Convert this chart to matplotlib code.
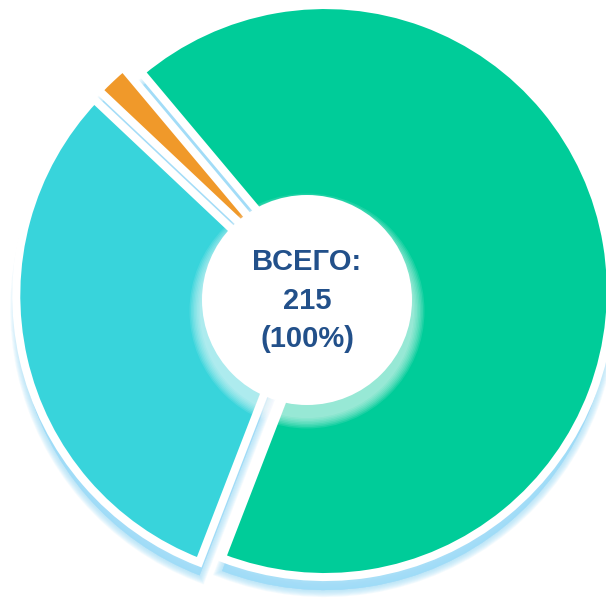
import numpy as np
import matplotlib.pyplot as plt
from matplotlib.patches import Circle

# data
labels = ['Категория 1', 'Категория 2', 'Категория 3']
values = [144, 67, 4]
colors = ['#00CC99', '#38D4DB', '#F0992A']
total = sum(values)
center_lines = ['ВСЕГО:', str(total), '(100%)']

W, H = 606, 598
CX, CY = 313, 305          # ring centre (pixels, y up)
R = 286
EXPLODE = [12, 11, 9]
START = 130
SHADOW = '#9DDCF7'
TEXT_COLOR = '#22508A'

fig = plt.figure(figsize=(W / 100, H / 100), dpi=100)
ax = fig.add_axes([0, 0, 1, 1])

# soft blue drop shadow under the ring
ax.pie(values, radius=R - 1, center=(CX, CY - 14), explode=EXPLODE,
       startangle=START, counterclock=False, colors=[SHADOW] * 3,
       wedgeprops=dict(linewidth=0, alpha=0.6))
for k in range(8):
    ax.pie(values, radius=R - 1, center=(CX, CY - 14), explode=EXPLODE,
           startangle=START, counterclock=False, colors=[SHADOW] * 3,
           wedgeprops=dict(linewidth=1 + k * 1.3, edgecolor=SHADOW, alpha=0.12))

# slices
ax.pie(values, radius=R, center=(CX, CY), explode=EXPLODE,
       startangle=START, counterclock=False, colors=colors,
       wedgeprops=dict(linewidth=5.8, edgecolor='white'))

# light glow under the hole (mostly on its lower side)
hx, hy, hr = 307, H - 300, 105
for k in range(8):
    ax.add_patch(Circle((hx, hy - 11), hr + 2 + k * 1.5, facecolor='white',
                        edgecolor='none', alpha=0.11, zorder=5))
ax.add_patch(Circle((hx, hy), hr, facecolor='white', edgecolor='none', zorder=6))

# centre text
ys = [H - 262, H - 301, H - 339]
for txt, y in zip(center_lines, ys):
    ax.text(hx, y, txt, ha='center', va='center', fontsize=21, fontweight='bold',
            color=TEXT_COLOR, family=['Liberation Sans Narrow', 'Liberation Sans'],
            zorder=7)

ax.set_xlim(0, W)
ax.set_ylim(0, H)
ax.set_aspect('equal')
ax.axis('off')

fig.savefig('out.png', dpi=100)
